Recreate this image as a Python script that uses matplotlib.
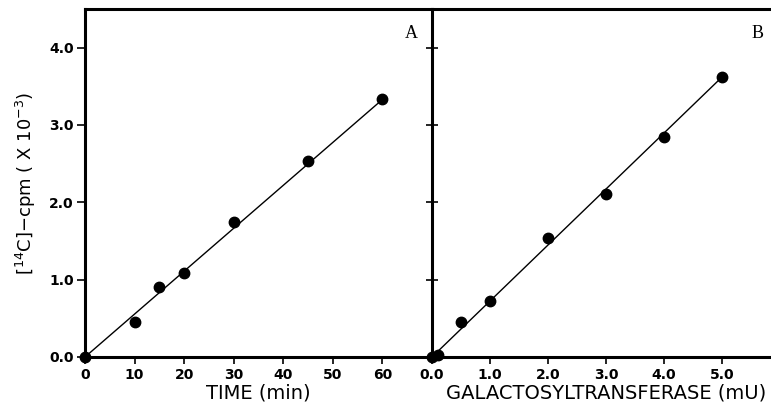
import matplotlib
matplotlib.use('Agg')
from matplotlib import pyplot
import numpy

# panel A: incorporation vs time
time_min = [0, 10, 15, 20, 30, 45, 60]
cpm_time = [0.0, 0.45, 0.90, 1.09, 1.75, 2.53, 3.33]
fit_time_x = [0, 60]
fit_time_y = [0.0, 3.33]

# panel B: incorporation vs amount of enzyme
enzyme_mu = [0.0, 0.1, 0.5, 1.0, 2.0, 3.0, 4.0, 5.0]
cpm_enzyme = [0.0, 0.03, 0.455, 0.72, 1.54, 2.11, 2.84, 3.62]
fit_enzyme_x = [0.0, 5.0]
fit_enzyme_y = [0.0, 3.62]

time_ticks = [0, 10, 20, 30, 40, 50, 60]
enzyme_ticks = [0.0, 1.0, 2.0, 3.0, 4.0, 5.0]
cpm_ticks = [0.0, 1.0, 2.0, 3.0, 4.0]

label_font = 'DejaVu Sans'
tick_font = {'family': 'DejaVu Sans', 'weight': 'bold', 'size': 10}

fig = pyplot.figure(figsize=(7.71, 4.13), dpi=100)
W, H = 771, 413
ax_a = fig.add_axes([85 / W, 56 / H, 347 / W, 348 / H])
ax_b = fig.add_axes([432 / W, 56 / H, 348 / W, 348 / H])

for ax in (ax_a, ax_b):
    for side in ('left', 'bottom', 'top', 'right'):
        ax.spines[side].set_linewidth(2.2)
    ax.set_ylim(0, 4.5)
    ax.set_yticks(cpm_ticks)
    ax.tick_params(axis='x', direction='out', length=5, width=1.2, pad=3)

ax_a.plot(fit_time_x, fit_time_y, color='black', linewidth=1.0)
ax_a.plot(time_min, cpm_time, 'o', color='black', markersize=7.5, clip_on=False, zorder=5)
ax_a.set_xlim(0, 70)
ax_a.set_xticks(time_ticks)
ax_a.set_xticklabels([str(t) for t in time_ticks], fontdict=tick_font)
ax_a.set_yticklabels(['%.1f' % v for v in cpm_ticks], fontdict=tick_font)
ax_a.tick_params(axis='y', direction='out', length=6, width=1.2, pad=2)
ax_a.spines['right'].set_visible(False)
ax_a.set_xlabel('TIME (min)', family=label_font, fontsize=14, labelpad=1)
ax_a.set_ylabel(r'[$^{14}$C]$-$cpm ( X 10$^{-3}$)', family=label_font, fontsize=13, labelpad=8)
ax_a.text(0.94, 0.93, 'A', transform=ax_a.transAxes, family='Liberation Serif',
          fontsize=13, ha='center', va='center')

ax_b.plot(fit_enzyme_x, fit_enzyme_y, color='black', linewidth=1.0)
ax_b.plot(enzyme_mu, cpm_enzyme, 'o', color='black', markersize=7.5, clip_on=False, zorder=5)
ax_b.set_xlim(0, 6)
ax_b.set_xticks(enzyme_ticks)
ax_b.set_xticklabels(['%.1f' % v for v in enzyme_ticks], fontdict=tick_font)
ax_b.tick_params(axis='y', direction='inout', length=8, width=1.2, labelleft=False)
ax_b.set_xlabel('GALACTOSYLTRANSFERASE (mU)', family=label_font, fontsize=14, labelpad=1)
ax_b.text(0.934, 0.93, 'B', transform=ax_b.transAxes, family='Liberation Serif',
          fontsize=13, ha='center', va='center')

fig.savefig('out.png', dpi=100)
